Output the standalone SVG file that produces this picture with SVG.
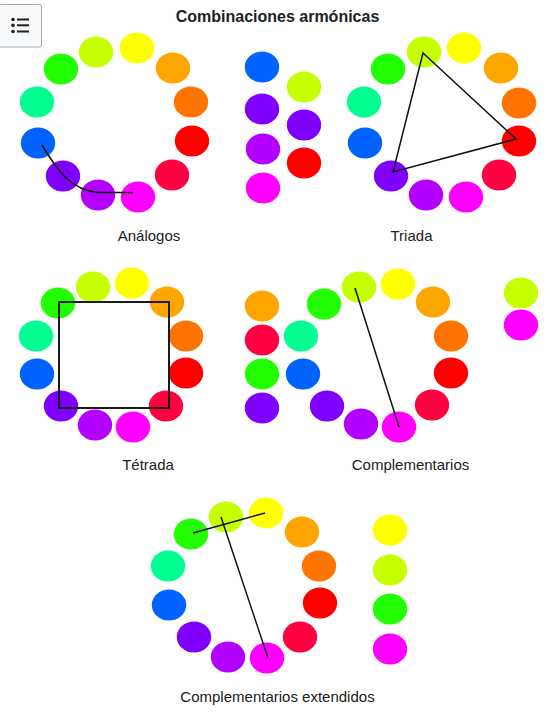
<svg xmlns="http://www.w3.org/2000/svg" width="555" height="719" viewBox="0 0 555 719">
<style>
text{font-family:"Liberation Sans",Arial,sans-serif;fill:#202122}
.t{font-size:16px;font-weight:bold;text-anchor:middle}
.l{font-size:15px;text-anchor:middle}
ellipse{stroke:none}
.ln{fill:none;stroke:#111;stroke-width:1.5}
.sq{fill:none;stroke:#1a1a1a;stroke-width:2}
.Y{fill:#ffff00}.C{fill:#c5ff00}.G{fill:#22ff00}.T{fill:#00ff90}.B{fill:#0062ff}.V{fill:#8000ff}.P{fill:#b300ff}.M{fill:#ff00ff}.K{fill:#ff0040}.R{fill:#ff0000}.O{fill:#ff7400}.A{fill:#ffa500}
</style>
<rect width="555" height="719" fill="#fff"/>
<g id="menu">
<rect x="-1" y="4.5" width="42.5" height="42.5" rx="2" fill="#f8f9fa" stroke="#a2a9b1"/>
<g fill="#202122"><circle cx="13" cy="19.5" r="1.8"/><circle cx="13" cy="25.3" r="1.8"/><circle cx="13" cy="31.5" r="1.8"/>
<rect x="17" y="18.5" width="12" height="2"/><rect x="17" y="24.3" width="12" height="2"/><rect x="17" y="30.5" width="12" height="2"/></g>
</g>
<text class="t" x="277.5" y="22">Combinaciones armónicas</text>

<g id="analogos">
<ellipse class="Y" cx="137" cy="48" rx="17.2" ry="15.5"/>
<ellipse class="C" cx="96" cy="52" rx="17.2" ry="15.5"/>
<ellipse class="G" cx="61" cy="69" rx="17.2" ry="15.5"/>
<ellipse class="T" cx="37" cy="102" rx="17.2" ry="15.5"/>
<ellipse class="B" cx="38" cy="143" rx="17.2" ry="15.5"/>
<ellipse class="V" cx="63" cy="176" rx="17.2" ry="15.5"/>
<ellipse class="P" cx="98" cy="195" rx="17.2" ry="15.5"/>
<ellipse class="M" cx="138" cy="197" rx="17.2" ry="15.5"/>
<ellipse class="K" cx="172" cy="175" rx="17.2" ry="15.5"/>
<ellipse class="R" cx="192" cy="141" rx="17.2" ry="15.5"/>
<ellipse class="O" cx="191" cy="102" rx="17.2" ry="15.5"/>
<ellipse class="A" cx="173" cy="68" rx="17.2" ry="15.5"/>
<text class="l" x="149" y="241">Análogos</text>
</g>
<g id="paleta-analogos">
<ellipse class="B" cx="262" cy="67" rx="17.2" ry="15.5"/>
<ellipse class="V" cx="262" cy="109" rx="17.2" ry="15.5"/>
<ellipse class="P" cx="263" cy="149" rx="17.2" ry="15.5"/>
<ellipse class="M" cx="263" cy="188" rx="17.2" ry="15.5"/>
</g>
<g id="paleta-triada">
<ellipse class="C" cx="304" cy="87" rx="17.2" ry="15.5"/>
<ellipse class="V" cx="304" cy="125" rx="17.2" ry="15.5"/>
<ellipse class="R" cx="304" cy="163" rx="17.2" ry="15.5"/>
</g>
<g id="triada">
<ellipse class="C" cx="424" cy="52" rx="17.2" ry="15.5"/>
<ellipse class="Y" cx="464" cy="48" rx="17.2" ry="15.5"/>
<ellipse class="A" cx="501" cy="68" rx="17.2" ry="15.5"/>
<ellipse class="O" cx="519" cy="103" rx="17.2" ry="15.5"/>
<ellipse class="R" cx="519" cy="141" rx="17.2" ry="15.5"/>
<ellipse class="K" cx="499" cy="175" rx="17.2" ry="15.5"/>
<ellipse class="M" cx="466" cy="197" rx="17.2" ry="15.5"/>
<ellipse class="P" cx="426" cy="195" rx="17.2" ry="15.5"/>
<ellipse class="V" cx="391" cy="176" rx="17.2" ry="15.5"/>
<ellipse class="B" cx="365" cy="143" rx="17.2" ry="15.5"/>
<ellipse class="T" cx="364" cy="102" rx="17.2" ry="15.5"/>
<ellipse class="G" cx="388" cy="69" rx="17.2" ry="15.5"/>
<text class="l" x="411.5" y="241">Triada</text>
</g>

<g id="tetrada">
<ellipse class="C" cx="93" cy="287" rx="17.2" ry="15.5"/>
<ellipse class="Y" cx="132" cy="283" rx="17.2" ry="15.5"/>
<ellipse class="A" cx="167" cy="302" rx="17.2" ry="15.5"/>
<ellipse class="O" cx="186" cy="336" rx="17.2" ry="15.5"/>
<ellipse class="R" cx="186" cy="373" rx="17.2" ry="15.5"/>
<ellipse class="K" cx="166" cy="406" rx="17.2" ry="15.5"/>
<ellipse class="M" cx="133" cy="427" rx="17.2" ry="15.5"/>
<ellipse class="P" cx="95" cy="425" rx="17.2" ry="15.5"/>
<ellipse class="V" cx="61" cy="406" rx="17.2" ry="15.5"/>
<ellipse class="B" cx="37" cy="374" rx="17.2" ry="15.5"/>
<ellipse class="T" cx="36" cy="336" rx="17.2" ry="15.5"/>
<ellipse class="G" cx="58" cy="303" rx="17.2" ry="15.5"/>
<text class="l" x="148" y="470">Tétrada</text>
</g>
<g id="paleta-complementarios-izq">
<ellipse class="A" cx="262" cy="306" rx="17.2" ry="15.5"/>
<ellipse class="K" cx="262" cy="340" rx="17.2" ry="15.5"/>
<ellipse class="G" cx="262" cy="374" rx="17.2" ry="15.5"/>
<ellipse class="V" cx="262" cy="408" rx="17.2" ry="15.5"/>
</g>
<g id="complementarios">
<ellipse class="C" cx="359" cy="287" rx="17.2" ry="15.5"/>
<ellipse class="Y" cx="398" cy="284" rx="17.2" ry="15.5"/>
<ellipse class="A" cx="433" cy="302" rx="17.2" ry="15.5"/>
<ellipse class="O" cx="451" cy="336" rx="17.2" ry="15.5"/>
<ellipse class="R" cx="451" cy="373" rx="17.2" ry="15.5"/>
<ellipse class="K" cx="432" cy="405" rx="17.2" ry="15.5"/>
<ellipse class="M" cx="399" cy="427" rx="17.2" ry="15.5"/>
<ellipse class="P" cx="361" cy="424" rx="17.2" ry="15.5"/>
<ellipse class="V" cx="327" cy="406" rx="17.2" ry="15.5"/>
<ellipse class="B" cx="303" cy="374" rx="17.2" ry="15.5"/>
<ellipse class="T" cx="301" cy="336" rx="17.2" ry="15.5"/>
<ellipse class="G" cx="324" cy="304" rx="17.2" ry="15.5"/>
<text class="l" x="410.5" y="470">Complementarios</text>
</g>
<g id="paleta-complementarios">
<ellipse class="C" cx="521" cy="293" rx="17.2" ry="15.5"/>
<ellipse class="M" cx="521" cy="325" rx="17.2" ry="15.5"/>
</g>

<g id="complementarios-extendidos">
<ellipse class="C" cx="226" cy="517" rx="17.2" ry="15.5"/>
<ellipse class="Y" cx="266" cy="513" rx="17.2" ry="15.5"/>
<ellipse class="A" cx="302" cy="532" rx="17.2" ry="15.5"/>
<ellipse class="O" cx="319" cy="566" rx="17.2" ry="15.5"/>
<ellipse class="R" cx="320" cy="603" rx="17.2" ry="15.5"/>
<ellipse class="K" cx="300" cy="637" rx="17.2" ry="15.5"/>
<ellipse class="M" cx="267" cy="658" rx="17.2" ry="15.5"/>
<ellipse class="P" cx="228" cy="657" rx="17.2" ry="15.5"/>
<ellipse class="V" cx="194" cy="637" rx="17.2" ry="15.5"/>
<ellipse class="B" cx="169" cy="605" rx="17.2" ry="15.5"/>
<ellipse class="T" cx="168" cy="566" rx="17.2" ry="15.5"/>
<ellipse class="G" cx="191" cy="534" rx="17.2" ry="15.5"/>
<text class="l" x="277.5" y="702">Complementarios extendidos</text>
</g>
<g id="paleta-extendidos">
<ellipse class="Y" cx="390" cy="530" rx="17.2" ry="15.5"/>
<ellipse class="C" cx="390" cy="570" rx="17.2" ry="15.5"/>
<ellipse class="G" cx="390" cy="609" rx="17.2" ry="15.5"/>
<ellipse class="M" cx="390" cy="649" rx="17.2" ry="15.5"/>
</g>

<g id="connectors">
<path class="ln" d="M42,145 C58,172 72,190 98,192.5 L133,192.5"/>
<polygon class="ln" points="423,53 516,139 393,172"/>
<rect class="sq" x="59" y="302" width="110" height="106"/>
<line class="ln" x1="355" y1="288" x2="399" y2="427"/>
<line class="ln" x1="193" y1="533" x2="265" y2="513"/>
<line class="ln" x1="221" y1="517" x2="268" y2="658"/>
</g>
</svg>
